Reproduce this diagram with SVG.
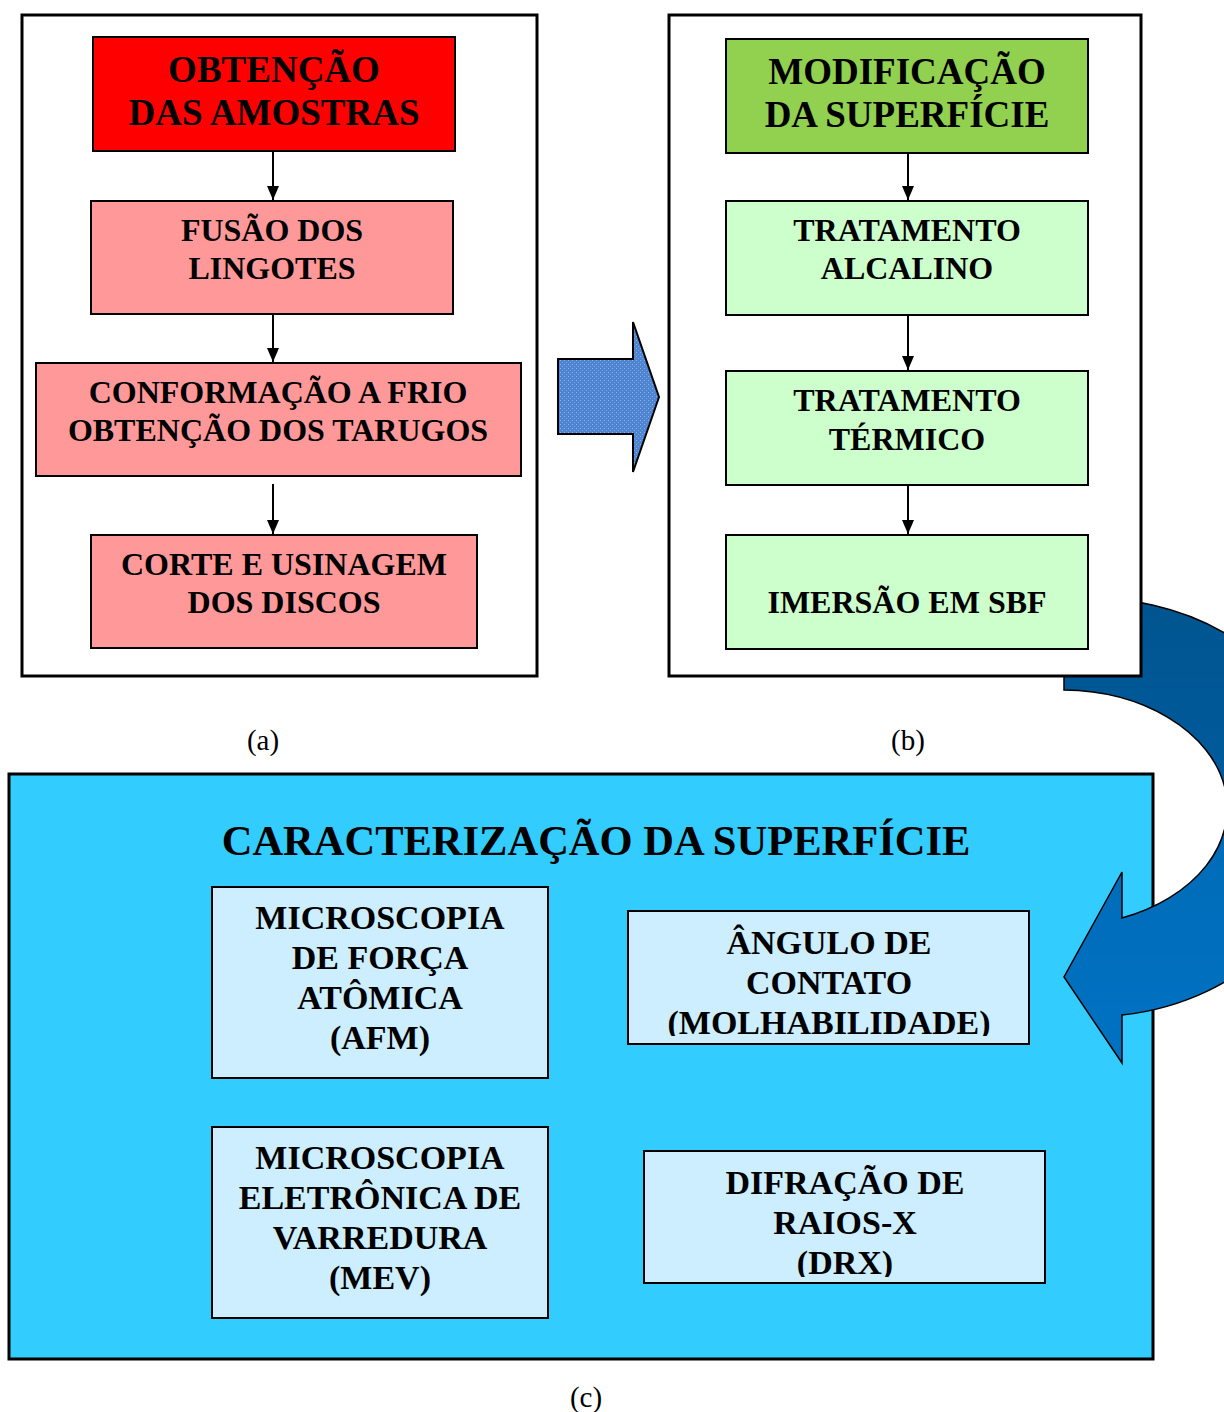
<svg xmlns="http://www.w3.org/2000/svg" width="1224" height="1412" viewBox="0 0 1224 1412">
<style>
.panel{fill:#fff;stroke:#000;stroke-width:3}
.box{stroke:#000;stroke-width:2}
.t{font-family:"Liberation Serif","Times New Roman",serif;font-weight:bold;fill:#000;text-anchor:middle}
.lbl{font-family:"Liberation Serif","Times New Roman",serif;font-size:29px;fill:#000;text-anchor:middle}
.conn{stroke:#000;stroke-width:2;fill:none;marker-end:url(#ah)}
</style>
<defs>
<marker id="ah" viewBox="0 0 14 12" refX="14" refY="6" markerWidth="14" markerHeight="12" markerUnits="userSpaceOnUse" orient="auto">
<path d="M0,0 L14,6 L0,12 Z" fill="#000"/>
</marker>
<pattern id="dots" width="4" height="4" patternUnits="userSpaceOnUse">
<rect width="4" height="4" fill="#4f84d0"/>
<rect x="0" y="0" width="1" height="1" fill="#8db3ea"/>
<rect x="2" y="2" width="1" height="1" fill="#7aa4e0"/>
</pattern>
<linearGradient id="cg" gradientUnits="userSpaceOnUse" x1="0" y1="596" x2="0" y2="1063">
<stop offset="0" stop-color="#00558f"/>
<stop offset="0.42" stop-color="#005a9c"/>
<stop offset="0.52" stop-color="#006cb8"/>
<stop offset="1" stop-color="#0071c2"/>
</linearGradient>
<clipPath id="clipAng"><rect x="629" y="912" width="399" height="124"/></clipPath>
<clipPath id="clipDrx"><rect x="645" y="1152" width="399" height="125"/></clipPath>
</defs>

<g id="panel-c">
<rect x="9" y="774" width="1144" height="585" fill="#33ccff" stroke="#000" stroke-width="3"/>
<text class="t" x="596" y="855" font-size="42.5">CARACTERIZAÇÃO DA SUPERFÍCIE</text>
</g>

<g id="curved-arrow">
<path d="M1064,600 A238,208 0 0 1 1122,1015 L1122,1063 L1064,977 L1122,872 L1122,918 A165,118 0 0 0 1064,690 Z" fill="url(#cg)" stroke="#000" stroke-width="1.5"/>
</g>

<g id="panel-a">
<rect class="panel" x="22" y="15" width="515" height="661"/>
</g>
<g id="panel-b">
<rect class="panel" x="669" y="15" width="472" height="661"/>
</g>

<g id="node-obtencao">
<rect class="box" x="93" y="37" width="362" height="114" fill="#ff0000"/>
<text class="t" font-size="37" x="274" y="82">OBTENÇÃO</text>
<text class="t" font-size="37" x="274" y="125">DAS AMOSTRAS</text>
</g>
<g id="node-fusao">
<rect class="box" x="91" y="201" width="362" height="113" fill="#ff9999"/>
<text class="t" font-size="32" x="272" y="241">FUSÃO DOS</text>
<text class="t" font-size="32" x="272" y="279">LINGOTES</text>
</g>
<g id="node-conformacao">
<rect class="box" x="36" y="363" width="485" height="113" fill="#ff9999"/>
<text class="t" font-size="32" x="278" y="403">CONFORMAÇÃO A FRIO</text>
<text class="t" font-size="32" x="278" y="441">OBTENÇÃO DOS TARUGOS</text>
</g>
<g id="node-corte">
<rect class="box" x="91" y="535" width="386" height="113" fill="#ff9999"/>
<text class="t" font-size="32" x="284" y="575">CORTE E USINAGEM</text>
<text class="t" font-size="32" x="284" y="613">DOS DISCOS</text>
</g>

<g id="node-modificacao">
<rect class="box" x="726" y="39" width="362" height="114" fill="#92d050"/>
<text class="t" font-size="37" x="907" y="84">MODIFICAÇÃO</text>
<text class="t" font-size="37" x="907" y="127">DA SUPERFÍCIE</text>
</g>
<g id="node-alcalino">
<rect class="box" x="726" y="201" width="362" height="114" fill="#ccffcc"/>
<text class="t" font-size="32" x="907" y="241">TRATAMENTO</text>
<text class="t" font-size="32" x="907" y="279">ALCALINO</text>
</g>
<g id="node-termico">
<rect class="box" x="726" y="371" width="362" height="114" fill="#ccffcc"/>
<text class="t" font-size="32" x="907" y="411">TRATAMENTO</text>
<text class="t" font-size="32" x="907" y="450">TÉRMICO</text>
</g>
<g id="node-sbf">
<rect class="box" x="726" y="535" width="362" height="114" fill="#ccffcc"/>
<text class="t" font-size="32" x="907" y="613">IMERSÃO EM SBF</text>
</g>

<g id="node-afm">
<rect class="box" x="212" y="887" width="336" height="191" fill="#cceeff"/>
<text class="t" font-size="34" x="380" y="929">MICROSCOPIA</text>
<text class="t" font-size="34" x="380" y="969">DE FORÇA</text>
<text class="t" font-size="34" x="380" y="1009">ATÔMICA</text>
<text class="t" font-size="34" x="380" y="1049">(AFM)</text>
</g>
<g id="node-angulo">
<rect class="box" x="628" y="911" width="401" height="133" fill="#cceeff"/>
<g clip-path="url(#clipAng)">
<text class="t" font-size="34" x="829" y="954">ÂNGULO DE</text>
<text class="t" font-size="34" x="829" y="994">CONTATO</text>
<text class="t" font-size="34" x="829" y="1034">(MOLHABILIDADE)</text>
</g>
</g>
<g id="node-mev">
<rect class="box" x="212" y="1127" width="336" height="191" fill="#cceeff"/>
<text class="t" font-size="34" x="380" y="1169">MICROSCOPIA</text>
<text class="t" font-size="34" x="380" y="1209">ELETRÔNICA DE</text>
<text class="t" font-size="34" x="380" y="1249">VARREDURA</text>
<text class="t" font-size="34" x="380" y="1289">(MEV)</text>
</g>
<g id="node-drx">
<rect class="box" x="644" y="1151" width="401" height="132" fill="#cceeff"/>
<g clip-path="url(#clipDrx)">
<text class="t" font-size="34" x="845" y="1194">DIFRAÇÃO DE</text>
<text class="t" font-size="34" x="845" y="1234">RAIOS-X</text>
<text class="t" font-size="34" x="845" y="1274">(DRX)</text>
</g>
</g>

<g id="big-arrow">
<path d="M558,359 L633,359 L633,322 L659,397 L633,472 L633,434 L558,434 Z" fill="url(#dots)" stroke="#000" stroke-width="2"/>
</g>

<g id="connectors">
<line class="conn" x1="273" y1="152" x2="273" y2="200"/>
<line class="conn" x1="273" y1="315" x2="273" y2="362"/>
<line class="conn" x1="273" y1="484" x2="273" y2="534"/>
<line class="conn" x1="908" y1="154" x2="908" y2="200"/>
<line class="conn" x1="908" y1="316" x2="908" y2="370"/>
<line class="conn" x1="908" y1="486" x2="908" y2="534"/>
</g>

<g id="labels">
<text class="lbl" x="263" y="750">(a)</text>
<text class="lbl" x="908" y="750">(b)</text>
<text class="lbl" x="586" y="1407">(c)</text>
</g>
</svg>
